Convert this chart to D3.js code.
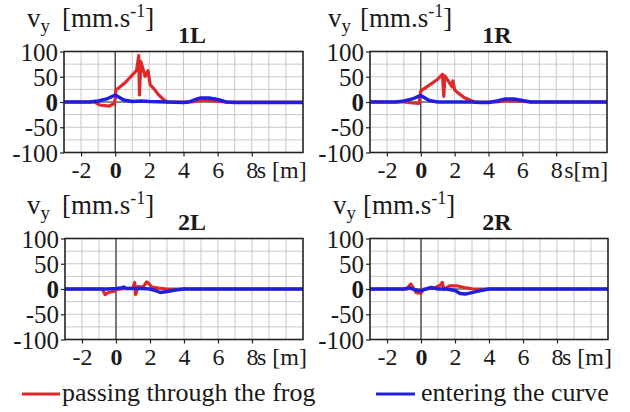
<!DOCTYPE html>
<html><head><meta charset="utf-8">
<script src="https://cdn.jsdelivr.net/npm/d3@7"></script>
</head><body style="margin:0"><svg id="c" width="630" height="412" font-family="Liberation Serif"></svg>
<script>
// ---- data (s [m], vy [mm/s]) ----
const xTicks = [-2, 0, 2, 4, 6, 8];
const yTicks = [100, 50, 0, -50, -100];
const seriesNames = ["passing through the frog", "entering the curve"];
const panelNames = ["1L", "1R", "2L", "2R"];

const red1L = [[-3,0],[-1.2,0],[-0.9,-6],[-0.35,-8],[-0.05,-3],[0,7],[0.05,25],[0.18,27],[0.57,38],[1.05,55],[1.25,63],[1.38,92],[1.42,14],[1.5,80],[1.75,51],[1.92,62],[2.05,34],[2.25,27],[2.55,14],[2.85,4],[3.05,0],[4.5,0],[5,3],[5.5,3],[6,1],[6.5,0],[11,0]];
const blue1L = [[-3,0],[-1.5,0],[-1,2],[-0.5,6],[0,14],[0.5,4],[1,1],[1.5,2],[2,1],[3,0],[4,-1],[4.3,0],[4.7,5],[5,8],[5.5,8],[6,5],[6.5,0],[7,-1],[11,-1]];

const red1R = [[-3,0],[-1,0],[-0.5,-2],[-0.1,-3],[0,22],[0.4,31],[1.0,45],[1.28,55],[1.36,11],[1.42,52],[1.85,30],[1.9,42],[2.0,24],[2.16,19],[2.56,9],[2.96,3],[3.2,0],[4.5,0],[5,2],[5.5,2],[6,1],[6.5,0],[11,0]];
const blue1R = [[-3,0],[-1.5,0],[-1,2],[-0.5,6],[0,13],[0.5,3],[1,0],[3,0],[3.5,-1],[4,-1],[4.5,2],[5,6],[5.5,6],[6,3],[6.5,0],[11,0]];

const red2L = [[-3,0],[-0.8,0],[-0.65,-11],[-0.45,-7],[-0.15,-5],[0.05,-1],[0.6,1],[1.0,2],[1.1,13],[1.15,-11],[1.3,5],[1.6,4],[1.8,14],[1.9,12],[2.1,4],[2.5,2],[3,0],[11,0]];
const blue2L = [[-3,0],[-0.5,0],[0,1],[0.3,2],[0.45,4],[0.6,1],[1.5,1],[2,0],[2.3,-3],[2.6,-7],[3,-5],[3.5,-2],[4,0],[11,0]];

const red2R = [[-3,0],[-0.8,0],[-0.73,5],[-0.6,10],[-0.45,2],[-0.28,-7],[0,-8],[0.15,0],[0.75,1],[1.15,8],[1.25,13],[1.35,-1],[1.65,6],[2.15,6],[2.55,3],[3.1,0],[11,0]];
const blue2R = [[-3,0],[-1,0],[-0.7,2],[-0.3,-2],[0,-4],[0.3,0],[0.6,3],[1,0],[1.5,0],[2,-3],[2.3,-9],[2.6,-10],[3,-7],[3.5,-3],[4,0],[11,0]];

const redSeries = [red1L, red1R, red2L, red2R];
const blueSeries = [blue1L, blue1R, blue2L, blue2R];

// ---- layout ----
const FONT = "Liberation Serif";
const layout = [
  {left:64,  top:51.5,  w:239, h:101, sLab:"s [m]", sOff:5, vx:27,  bx:62,  tx:192},
  {left:370, top:51.5,  w:237, h:101, sLab:"s[m]",  sOff:8, vx:328, bx:360, tx:497},
  {left:65,  top:238.5, w:238, h:101, sLab:"s [m]", sOff:5, vx:27,  bx:62,  tx:192},
  {left:370, top:238.5, w:238, h:101, sLab:"s [m]", sOff:5, vx:333, bx:363, tx:497}
];
const RED = "#e0282a", BLUE = "#1f1fe0", INK = "#1a1a1a";

const svg = d3.select("#c");
svg.append("rect").attr("width",630).attr("height",412).attr("fill","#fff");

function txt(sel) { return sel.attr("font-family", FONT).attr("fill", INK); }

layout.forEach((L, i) => {
  const x = d3.scaleLinear().domain([-3, 11]).range([L.left, L.left + L.w]);
  const y = d3.scaleLinear().domain([-100, 100]).range([L.top + L.h, L.top]);
  const g = svg.append("g");

  // grid
  g.append("g").selectAll("line").data(d3.range(-2, 11)).join("line")
    .attr("x1", d => x(d)).attr("x2", d => x(d)).attr("y1", y(100)).attr("y2", y(-100))
    .attr("stroke", "#c8c8c8").attr("stroke-width", 1);
  g.append("g").selectAll("line").data(d3.range(-75, 100, 25)).join("line")
    .attr("x1", x(-3)).attr("x2", x(11)).attr("y1", d => y(d)).attr("y2", d => y(d))
    .attr("stroke", "#c8c8c8").attr("stroke-width", 1);
  // zero lines
  g.append("line").attr("x1", x(0)).attr("x2", x(0)).attr("y1", y(100)).attr("y2", y(-100))
    .attr("stroke", "#333").attr("stroke-width", 1.2);
  g.append("line").attr("x1", x(-3)).attr("x2", x(11)).attr("y1", y(0)).attr("y2", y(0))
    .attr("stroke", "#333").attr("stroke-width", 1.2);

  // axes
  const xa = g.append("g").attr("transform", `translate(0,${L.top + L.h})`)
    .call(d3.axisBottom(x).tickValues(xTicks).tickSize(4).tickPadding(3).tickFormat(d3.format("d")));
  const ya = g.append("g").attr("transform", `translate(${L.left},0)`)
    .call(d3.axisLeft(y).tickValues(yTicks).tickSize(4).tickPadding(2).tickFormat(d3.format("d")));
  [xa, ya].forEach(a => {
    a.attr("font-family", FONT).attr("font-size", null);
    a.select(".domain").remove();
    a.selectAll(".tick line").attr("stroke", "#222").attr("stroke-width", 1.2);
    txt(a.selectAll("text"));
  });
  xa.selectAll("text").attr("font-size", 24).attr("dy", "0.78em")
    .attr("font-weight", d => d === 0 ? "bold" : "normal")
    .text(d => d === -2 ? "-2" : d);
  ya.selectAll("text").attr("font-size", 25).attr("dy", "0.34em")
    .attr("font-weight", d => d === 0 ? "bold" : "normal")
    .text(d => d < 0 ? "-" + Math.abs(d) : d);

  // s [m] label next to 8
  txt(g.append("text")).attr("x", x(8) + L.sOff).attr("y", L.top + L.h + 25)
    .attr("font-size", 24).text(L.sLab);

  // series
  const line = d3.line().x(d => x(d[0])).y(d => y(d[1]));
  g.append("path").datum(redSeries[i]).attr("d", line).attr("fill", "none")
    .attr("stroke", RED).attr("stroke-width", 3.2).attr("stroke-linejoin", "round");
  g.append("path").datum(blueSeries[i]).attr("d", line).attr("fill", "none")
    .attr("stroke", BLUE).attr("stroke-width", 3.4).attr("stroke-linejoin", "round");

  // frame
  g.append("rect").attr("x", L.left).attr("y", L.top).attr("width", L.w).attr("height", L.h)
    .attr("fill", "none").attr("stroke", "#222").attr("stroke-width", 1.6);

  // y-axis title
  const base = L.top - 25;
  const t1 = txt(g.append("text")).attr("x", L.vx).attr("y", base).attr("font-size", 27);
  t1.append("tspan").text("v");
  t1.append("tspan").attr("font-size", 19).attr("dy", 5).text("y");
  const t2 = txt(g.append("text")).attr("x", L.bx).attr("y", base).attr("font-size", 27);
  t2.append("tspan").text("[mm.s");
  t2.append("tspan").attr("font-size", 18).attr("dy", -10).text("-1");
  t2.append("tspan").attr("dy", 10).text("]");

  // panel title
  txt(g.append("text")).attr("x", L.tx).attr("y", L.top - 9).attr("text-anchor", "middle")
    .attr("font-size", 24).attr("font-weight", "bold").text(panelNames[i]);
});

// legend
const leg = svg.append("g");
const legItems = [{x1: 22, x2: 60, tx: 62, c: RED}, {x1: 376, x2: 415, tx: 421, c: BLUE}];
legItems.forEach((it, k) => {
  leg.append("line").attr("x1", it.x1).attr("x2", it.x2).attr("y1", 394).attr("y2", 394)
    .attr("stroke", it.c).attr("stroke-width", 3);
  txt(leg.append("text")).attr("x", it.tx).attr("y", 401).attr("font-size", 26).text(seriesNames[k]);
});
</script></body></html>
